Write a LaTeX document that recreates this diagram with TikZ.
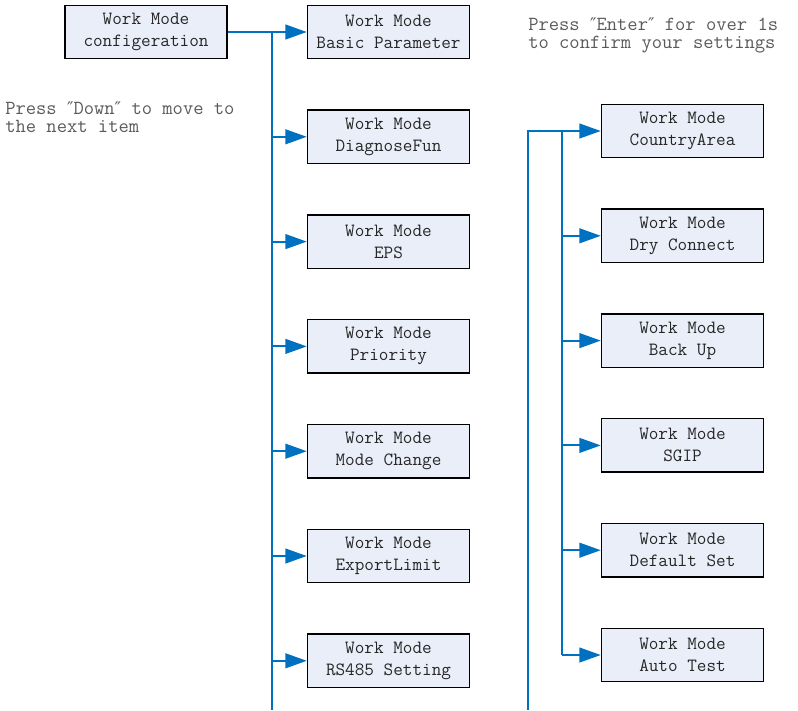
\documentclass[tikz,border=0pt]{standalone}
\usepackage{fontspec}
\newfontfamily\quotefont{DejaVu Sans}
\newcommand{\dprime}{{\quotefont\fontsize{13}{13}\selectfont ″}}
\usepackage{tikz}
\usetikzlibrary{arrows.meta,positioning}
\usepackage{xcolor}
\definecolor{wireblue}{HTML}{0070C0}
\definecolor{boxfill}{HTML}{E9EEF8}
\definecolor{notegray}{HTML}{5A5A5A}

\begin{document}
\begin{tikzpicture}[
    x=0.75pt, y=-0.75pt,
    node distance=37.5pt and 0.6cm,
    every node/.style={font=\ttfamily\fontsize{14}{16.5}\selectfont, text=black!85},
    menubox/.style={rectangle, draw=black, line width=1.1pt, fill=boxfill, minimum width=121.5pt, minimum height=40pt, inner sep=1pt, align=center},
    note/.style={font=\ttfamily\fontsize{15}{13.5}\selectfont, text=notegray, align=left, inner sep=0pt},
    wire/.style={draw=wireblue, line width=1.5pt},
    arr/.style={wire, -{Triangle[length=16pt,width=11pt]}}
]
\useasboundingbox (0,0) rectangle (798,710);

% Entry box and notes
\node[menubox] (config) at (146,32) {Work Mode\\configeration};
\node[note, anchor=north west] (downnote) at (5,102) {Press \dprime Down\dprime{} to move to\\the next item};
\node[note, anchor=north west] (enternote) at (528,18) {Press \dprime Enter\dprime{} for over 1s\\to confirm your settings};

% Left column
\node[menubox] (basic) at (388.5,32) {Work Mode\\Basic Parameter};
\node[menubox, below=of basic] (diag) {Work Mode\\DiagnoseFun};
\node[menubox, below=of diag] (eps) {Work Mode\\EPS};
\node[menubox, below=of eps] (prio) {Work Mode\\Priority};
\node[menubox, below=of prio] (change) {Work Mode\\Mode Change};
\node[menubox, below=of change] (export) {Work Mode\\ExportLimit};
\node[menubox, below=of export] (rs) {Work Mode\\RS485 Setting};

% Right column
\node[menubox] (country) at (682.5,131) {Work Mode\\CountryArea};
\node[menubox, below=of country] (dry) {Work Mode\\Dry Connect};
\node[menubox, below=of dry] (backup) {Work Mode\\Back Up};
\node[menubox, below=of backup] (sgip) {Work Mode\\SGIP};
\node[menubox, below=of sgip] (default) {Work Mode\\Default Set};
\node[menubox, below=of default] (autotest) {Work Mode\\Auto Test};

% Left trunk
\coordinate (trunkL) at (272,32);
\coordinate (trunkLbot) at (272,710);
\draw[arr] (config.east) -- (basic.west);
\draw[wire] (trunkL) -- (trunkLbot);
\draw[arr] (trunkL |- diag.west) -- (diag.west);
\draw[arr] (trunkL |- eps.west) -- (eps.west);
\draw[arr] (trunkL |- prio.west) -- (prio.west);
\draw[arr] (trunkL |- change.west) -- (change.west);
\draw[arr] (trunkL |- export.west) -- (export.west);
\draw[arr] (trunkL |- rs.west) -- (rs.west);

% Right trunk
\coordinate (trunkRbot) at (528,710);
\coordinate (branch) at (562,0);
\draw[arr] (trunkRbot) |- (country.west);
\draw[wire] (branch |- country.west) -- (branch |- autotest.west);
\draw[arr] (branch |- dry.west) -- (dry.west);
\draw[arr] (branch |- backup.west) -- (backup.west);
\draw[arr] (branch |- sgip.west) -- (sgip.west);
\draw[arr] (branch |- default.west) -- (default.west);
\draw[arr] (branch |- autotest.west) -- (autotest.west);

\end{tikzpicture}
\end{document}
